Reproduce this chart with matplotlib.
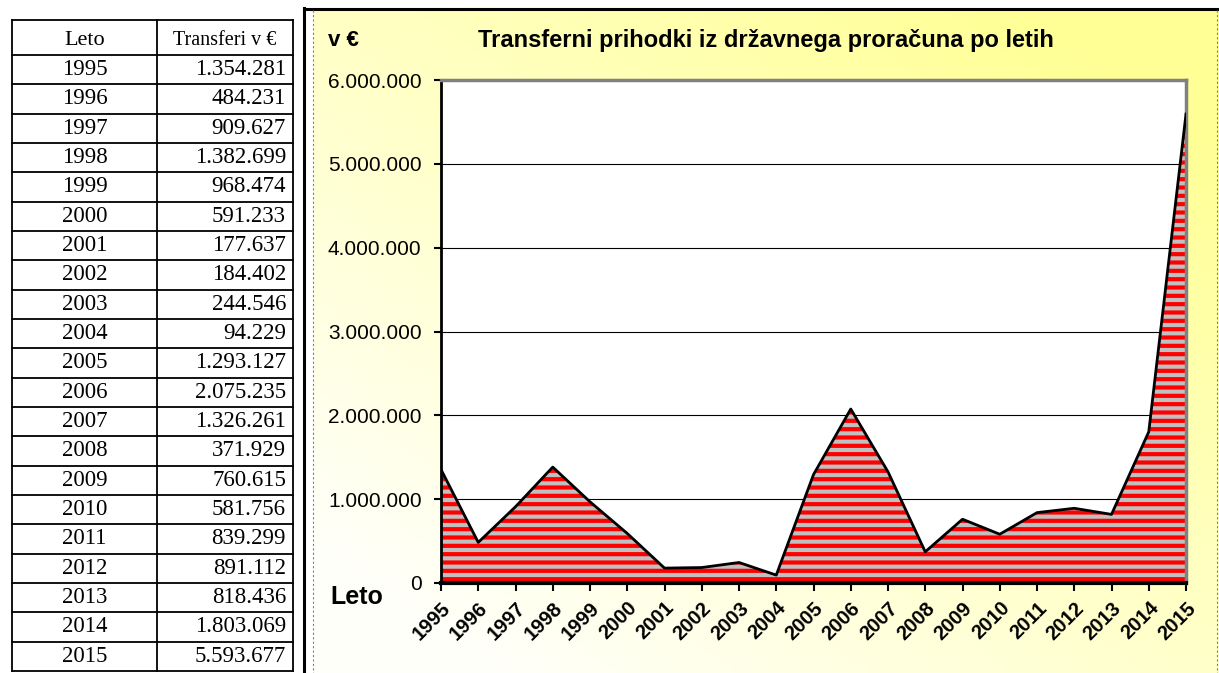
import matplotlib
matplotlib.use("Agg")
import matplotlib.pyplot as plt
import numpy as np
from matplotlib.ticker import FuncFormatter, MultipleLocator

years = [1995, 1996, 1997, 1998, 1999, 2000, 2001, 2002, 2003, 2004, 2005,
         2006, 2007, 2008, 2009, 2010, 2011, 2012, 2013, 2014, 2015]
transfers = [1354281, 484231, 909627, 1382699, 968474, 591233, 177637, 184402,
             244546, 94229, 1293127, 2075235, 1326261, 371929, 760615, 581756,
             839299, 891112, 818436, 1803069, 5593677]
title = "Transferni prihodki iz državnega proračuna po letih"
y_unit = "v €"
x_name = "Leto"
table_headers = ["Leto", "Transferi v €"]


def dots(v):
    return f"{int(v):,}".replace(",", ".")


W, H = 1219, 673
plt.rcParams['hatch.linewidth'] = 3.0
fig = plt.figure(figsize=(W / 100, H / 100), dpi=100)
fig.patch.set_facecolor("white")

# background canvas in pixel coords
bg = fig.add_axes([0, 0, 1, 1])
bg.set_xlim(0, W)
bg.set_ylim(H, 0)
bg.axis("off")

# yellow gradient panel
gx0, gx1, gy0, gy1 = 313, 1219, 10, 673
nx, ny = 200, 150
xx = np.linspace(0, 1, nx)[None, :]
yy = np.linspace(0, 1, ny)[:, None]  # 0 top
t = np.clip(0.6 * xx + 0.65 * (1 - yy) - 0.12, 0, 1)
img = np.zeros((ny, nx, 3))
img[..., 0] = 1.0
img[..., 1] = 1.0
img[..., 2] = (250 - t * 100) / 255
bg.imshow(img, extent=[gx0, gx1, gy1, gy0], aspect="auto", zorder=0)

# chart frame
bg.plot([304, 304], [8, H], color="black", lw=2.2, zorder=2)
bg.plot([304, W], [9, 9], color="black", lw=2.2, zorder=2)
bg.plot([313, 313], [10, H], color="#808080", lw=0.8, ls=(0, (2, 2)), zorder=2)
bg.plot([1217, 1217], [10, H], color="#808080", lw=0.8, ls=(0, (2, 2)), zorder=2)

# table
tx0, tx1, tx2 = 12, 157, 293
ty0, tyh = 20, 55
ty_end = 671
n = len(years)
row_h = (ty_end - tyh) / n
lines_y = [ty0, tyh] + [tyh + row_h * (i + 1) for i in range(n)]
for yv in lines_y:
    bg.plot([tx0, tx2], [yv, yv], color="black", lw=1.3, zorder=3)
for xv in (tx0, tx1, tx2):
    bg.plot([xv, xv], [ty0, ty_end], color="black", lw=1.3, zorder=3)
serif = "Liberation Serif"
bg.text((tx0 + tx1) / 2, (ty0 + tyh) / 2 + 3, table_headers[0], family=serif,
        fontsize=16, ha="center", va="center", zorder=4)
bg.text((tx1 + tx2) / 2, (ty0 + tyh) / 2 + 3, table_headers[1], family=serif,
        fontsize=14.5, ha="center", va="center", zorder=4)
for i, (yr, v) in enumerate(zip(years, transfers)):
    yc = tyh + row_h * (i + 0.5)
    bg.text((tx0 + tx1) / 2, yc, str(yr), family=serif, fontsize=16.5,
            ha="center", va="center", zorder=4)
    bg.text(tx2 - 7, yc, dots(v), family=serif, fontsize=16.5,
            ha="right", va="center", zorder=4)

sans = "Liberation Sans"
bg.text(328, 40, y_unit, family=sans, fontsize=16, fontweight="bold",
        ha="left", va="center", zorder=4)
bg.text(766, 40, title, family=sans, fontsize=17, fontweight="bold",
        ha="center", va="center", zorder=4)
bg.text(330, 597, x_name, family=sans, fontsize=18, fontweight="bold",
        ha="left", va="center", zorder=4)

# plot area
px0, px1, py0, py1 = 441, 1186, 80, 583
ax = fig.add_axes([px0 / W, 1 - py1 / H, (px1 - px0) / W, (py1 - py0) / H])
ax.set_facecolor("white")
xs = np.arange(len(years))
ax.fill_between(xs, transfers, 0, facecolor="#C0C0C0", edgecolor="red",
                hatch="--", linewidth=0, zorder=2)
ax.plot(xs, transfers, color="black", lw=2.0, zorder=3)
ax.set_xlim(0, len(years) - 1)
ax.set_ylim(0, 6000000)
ax.yaxis.set_major_locator(MultipleLocator(1000000))
ax.yaxis.set_major_formatter(FuncFormatter(lambda v, p: dots(v)))
ax.grid(axis="y", color="black", lw=0.8, zorder=1)
ax.set_axisbelow(True)
ax.set_xticks(xs)
ax.set_xticklabels([str(y) for y in years], rotation=45, ha="right",
                   va="top", rotation_mode="anchor", fontweight="bold",
                   family=sans, fontsize=14.5)
for lab in ax.get_yticklabels():
    lab.set_family(sans)
    lab.set_fontsize(15)
ax.tick_params(axis="x", length=6, width=1.5, direction="out", pad=5)
ax.tick_params(axis="y", length=5, width=1.5, direction="out", pad=9)
ax.spines["left"].set_linewidth(2)
ax.spines["bottom"].set_linewidth(3)
for s in ("top", "right"):
    ax.spines[s].set_color("#808080")
    ax.spines[s].set_linewidth(2.5)

fig.savefig("out.png", dpi=100)
